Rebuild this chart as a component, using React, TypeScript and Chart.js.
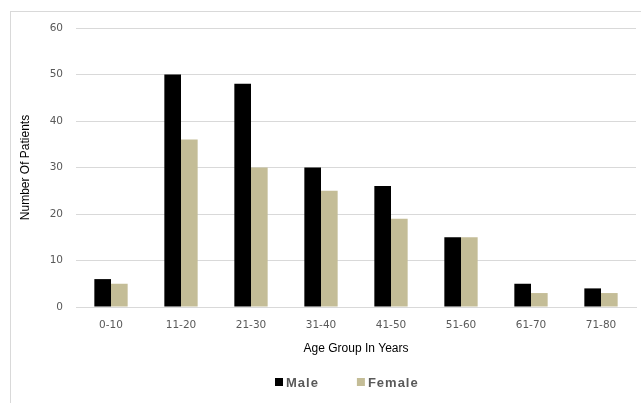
import React, { useEffect, useRef } from "react";
import { Chart, registerables } from "chart.js";

Chart.register(...registerables);

const categories = ["0-10", "11-20", "21-30", "31-40", "41-50", "51-60", "61-70", "71-80"];
const maleValues = [6, 50, 48, 30, 26, 15, 5, 4];
const femaleValues = [5, 36, 30, 25, 19, 15, 3, 3];
const seriesNames = ["Male", "Female"];
const yTitle = "Number Of Patients";
const xTitle = "Age Group In Years";

const tickFont = { family: "'DejaVu Sans', sans-serif", size: 10.5 };

const legendPlugin = {
  id: "bottomLegend",
  afterDraw(chart: any) {
    const ctx = chart.ctx;
    const ds = chart.data.datasets;
    ctx.save();
    ctx.font = "bold 13px 'Liberation Sans', Arial, sans-serif";
    (ctx as any).letterSpacing = "1px";
    ctx.textBaseline = "middle";
    ctx.textAlign = "left";
    const box = 8;
    const gap = 3;
    const spacing = 38;
    const y = 382;
    let x = 275;
    ds.forEach((d: any) => {
      ctx.fillStyle = d.backgroundColor;
      ctx.fillRect(x, y - box / 2, box, box);
      x += box + gap;
      ctx.fillStyle = "#595959";
      ctx.fillText(d.label, x, y + 1);
      x += ctx.measureText(d.label).width + spacing;
    });
    ctx.restore();
  },
};

export default function App() {
  const ref = useRef<HTMLCanvasElement>(null);
  useEffect(() => {
    if (!ref.current) return;
    const chart = new Chart(ref.current, {
      type: "bar",
      data: {
        labels: categories,
        datasets: [
          { label: seriesNames[0], data: maleValues, backgroundColor: "#000000", categoryPercentage: 0.476, barPercentage: 1 },
          { label: seriesNames[1], data: femaleValues, backgroundColor: "#c4bd97", categoryPercentage: 0.476, barPercentage: 1 },
        ],
      },
      options: {
        responsive: false,
        animation: false,
        layout: { padding: { left: 14, top: 28, right: 5, bottom: 36 } },
        plugins: { legend: { display: false }, tooltip: { enabled: false } },
        scales: {
          x: {
            grid: { display: false, drawTicks: false },
            border: { color: "#d9d9d9", width: 1 },
            ticks: { padding: 12, color: "#595959", font: tickFont },
            title: {
              display: true,
              text: xTitle,
              color: "#000000",
              font: { family: "'Liberation Sans', Arial, sans-serif", size: 12 },
              padding: { top: 4, bottom: 11 },
            },
            afterFit: (s: any) => { s.height = 60; },
          },
          y: {
            min: 0,
            max: 60,
            ticks: { stepSize: 10, padding: 13, color: "#595959", font: tickFont },
            grid: { color: "#d9d9d9", drawTicks: false },
            border: { display: false },
            title: {
              display: true,
              text: yTitle,
              color: "#000000",
              font: { family: "'Liberation Sans', Arial, sans-serif", size: 12 },
              padding: { top: 4, bottom: 4 },
            },
            afterFit: (s: any) => { s.width = 62; },
          },
        },
      },
      plugins: [legendPlugin],
    });
    return () => chart.destroy();
  }, []);
  return (
    <div style={{ position: "fixed", left: 0, top: 0, width: 641, height: 403, overflow: "hidden", background: "#ffffff" }}>
      <div style={{ position: "absolute", left: 10, top: 11, width: 700, height: 500, border: "1px solid #d9d9d9" }} />
      <canvas ref={ref} width={641} height={403} style={{ position: "absolute", left: 0, top: 0 }} />
    </div>
  );
}
